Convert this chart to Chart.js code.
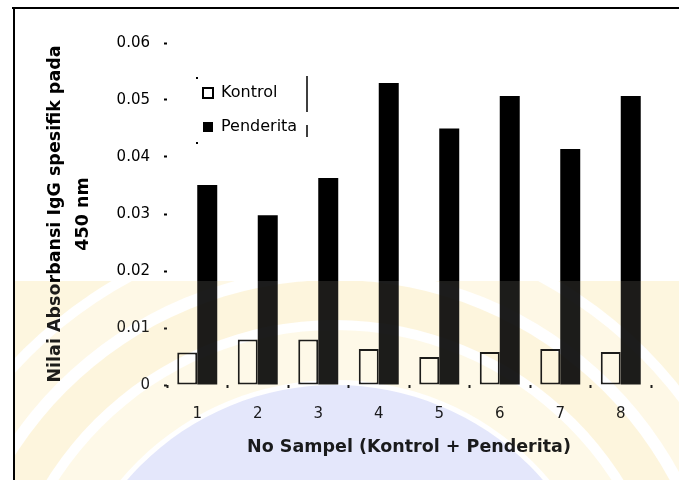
<!DOCTYPE html>
<html>
<head>
<meta charset="utf-8">
<script src="https://cdn.jsdelivr.net/npm/chart.js@4"></script>
<style>
  html, body { margin: 0; padding: 0; background: #fff; }
  #wrap { width: 679px; height: 480px; }
</style>
</head>
<body>
<div id="wrap"><canvas id="c" width="679" height="480"></canvas></div>
<script>
// Sample numbers on the x axis
const sampleLabels = ['1', '2', '3', '4', '5', '6', '7', '8'];
// IgG absorbance at 450 nm, control group
const kontrolValues = [0.0057, 0.0080, 0.0080, 0.0063, 0.0049, 0.0058, 0.0063, 0.0058];
// IgG absorbance at 450 nm, patient group
const penderitaValues = [0.0351, 0.0298, 0.0363, 0.0530, 0.0450, 0.0507, 0.0414, 0.0507];
// Value axis range and step
const yMin = 0;
const yMax = 0.06;
const yStep = 0.01;
// Axis titles
const yTitleLines = ['Nilai Absorbansi IgG spesifik pada', '450 nm'];
const xTitleText = 'No Sampel (Kontrol + Penderita)';

const tickFont = { family: 'DejaVu Sans', size: 15 };

// Outer frame lines along the left and top edges
const framePlugin = {
  id: 'frame',
  beforeDraw(chart) {
    const ctx = chart.ctx;
    ctx.save();
    ctx.strokeStyle = '#000';
    ctx.lineWidth = 2;
    ctx.beginPath();
    ctx.moveTo(12, 8);
    ctx.lineTo(679, 8);
    ctx.moveTo(14, 8);
    ctx.lineTo(14, 480);
    ctx.stroke();
    ctx.restore();
  }
};

// Put the legend inside the plot, upper left
const legendPlacePlugin = {
  id: 'legendPlace',
  afterLayout(chart) {
    const lg = chart.legend;
    if (!lg) return;
    const w = lg.width, h = lg.height;
    lg.left = 185;
    lg.top = 67;
    lg.right = lg.left + w;
    lg.bottom = lg.top + h;
  }
};

// Partial legend frame marks
const legendFramePlugin = {
  id: 'legendFrame',
  afterDraw(chart) {
    const lg = chart.legend;
    if (!lg) return;
    const ctx = chart.ctx;
    const x0 = lg.left + 12, y0 = lg.top + 11;
    ctx.save();
    ctx.fillStyle = '#000';
    ctx.fillRect(x0 - 1, y0 - 1, 2, 2);
    ctx.fillRect(x0 - 1, y0 + 64, 2, 2);
    ctx.strokeStyle = '#000';
    ctx.lineWidth = 1.5;
    ctx.beginPath();
    ctx.moveTo(x0 + 110, y0 - 2);
    ctx.lineTo(x0 + 110, y0 + 34);
    ctx.moveTo(x0 + 110, y0 + 47);
    ctx.lineTo(x0 + 110, y0 + 59);
    ctx.stroke();
    ctx.restore();
  }
};

// Faint seal printed over the lower part of the page
const sealPlugin = {
  id: 'seal',
  afterDraw(chart) {
    const ctx = chart.ctx;
    const cx = 335, cy = 660;
    ctx.save();
    ctx.beginPath();
    ctx.rect(15, 281, 664, 199);
    ctx.clip();
    ctx.fillStyle = 'rgba(255,255,255,0.11)';
    ctx.fillRect(15, 281, 664, 199);
    ctx.globalCompositeOperation = 'multiply';
    const band = (r0, r1, color) => {
      ctx.fillStyle = color;
      ctx.beginPath();
      ctx.arc(cx, cy, r1, 0, Math.PI * 2);
      ctx.arc(cx, cy, r0, 0, Math.PI * 2, true);
      ctx.fill('evenodd');
    };
    band(280, 330, '#fef9e8');
    band(340, 380, '#fdf5dd');
    band(392, 430, '#fef8e6');
    band(440, 520, '#fdf6df');
    band(530, 640, '#fefaec');
    ctx.fillStyle = '#e4e7fb';
    ctx.beginPath();
    ctx.arc(cx, cy, 275, 0, Math.PI * 2);
    ctx.fill();
    ctx.restore();
  }
};

new Chart(document.getElementById('c'), {
  type: 'bar',
  data: {
    labels: sampleLabels,
    datasets: [
      {
        label: 'Kontrol',
        data: kontrolValues,
        backgroundColor: '#ffffff',
        borderColor: '#000000',
        borderWidth: 2,
        borderSkipped: false,
        categoryPercentage: 0.661,
        barPercentage: 1.0
      },
      {
        label: 'Penderita',
        data: penderitaValues,
        backgroundColor: '#000000',
        borderColor: '#000000',
        borderWidth: 0,
        categoryPercentage: 0.661,
        barPercentage: 1.0
      }
    ]
  },
  options: {
    responsive: false,
    animation: false,
    layout: { padding: { left: 20, right: 28, top: 43, bottom: 0 } },
    plugins: {
      legend: {
        position: 'chartArea',
        align: 'start',
        labels: {
          boxWidth: 10,
          boxHeight: 10,
          padding: 18,
          color: '#000',
          font: { family: 'DejaVu Sans', size: 16 }
        }
      },
      tooltip: { enabled: false }
    },
    scales: {
      x: {
        offset: true,
        grid: {
          offset: true,
          drawOnChartArea: false,
          drawTicks: true,
          tickLength: 3,
          tickWidth: 2,
          tickColor: '#000'
        },
        border: { display: false },
        ticks: { color: '#000', font: tickFont, padding: 17 },
        title: {
          display: true,
          text: xTitleText,
          color: '#000',
          font: { family: 'DejaVu Sans', size: 17.5, weight: 'bold' },
          padding: { top: 0, bottom: 22 }
        },
        afterFit(scale) { scale.height = 95; }
      },
      y: {
        min: yMin,
        max: yMax,
        grid: {
          drawOnChartArea: false,
          drawTicks: true,
          tickLength: 3,
          tickWidth: 2,
          tickColor: '#000'
        },
        border: { display: false },
        ticks: {
          stepSize: yStep,
          color: '#000',
          font: tickFont,
          padding: 14,
          callback: (v) => (v === 0 ? '0' : v.toFixed(2))
        },
        title: {
          display: true,
          text: yTitleLines,
          color: '#000',
          font: { family: 'DejaVu Sans', size: 17.5, weight: 'bold', lineHeight: 1.6 },
          padding: { top: 21, bottom: 0 }
        },
        afterFit(scale) { scale.width = 147; }
      }
    }
  },
  plugins: [framePlugin, legendPlacePlugin, legendFramePlugin, sealPlugin]
});
</script>
</body>
</html>
